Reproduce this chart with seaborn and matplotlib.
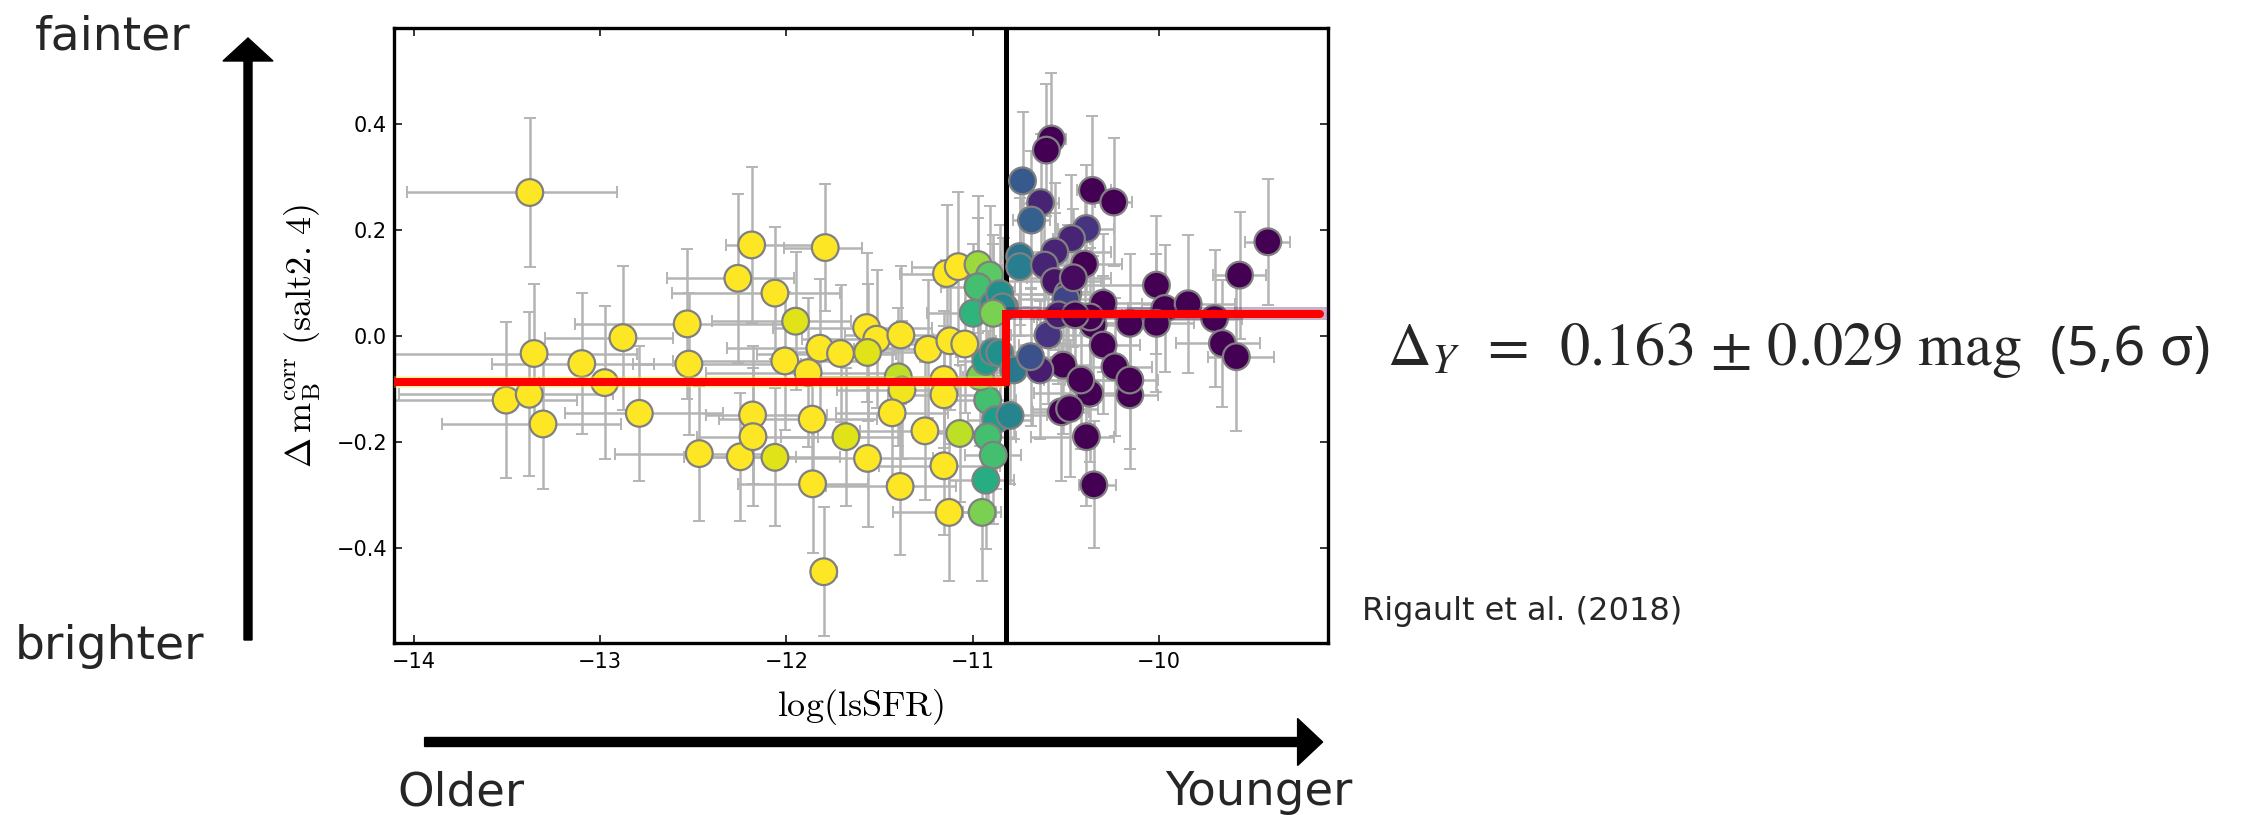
import numpy as np
import pandas as pd
import matplotlib
matplotlib.use("Agg")
import matplotlib.pyplot as plt
from matplotlib.patches import FancyArrow
import seaborn as sns

# ---------------- data ----------------
# log(lsSFR), Delta m_B^corr, P(young), x-error low/high, y-error
lssfr = [
    -13.378, -13.355, -13.505, -13.381, -13.307, -13.099, -12.976, -12.878, -12.790, -12.533,
    -12.524, -12.468, -12.261, -12.187, -12.248, -12.182, -12.180,
    -12.062, -11.792, -11.951, -11.821, -12.009, -11.884, -11.710, -11.570, -11.516, -11.565,
    -11.386, -11.240, -11.141, -11.078, -10.972, -10.910, -10.972, -10.998, -10.890, -10.830,
    -11.123, -11.043, -11.155, -11.155, -11.400, -11.380, -11.433, -11.257, -11.070, -10.920,
    -10.876, -10.920, -10.890, -10.930, -10.950, -11.127, -11.155, -11.390, -11.565, -11.681,
    -11.862, -11.860, -12.062, -11.800, -10.960, -10.930, -10.890, -10.855, -10.840, -10.890,
    -10.855, -10.780, -10.800,
    -10.578, -10.605, -10.733, -10.636, -10.685, -10.358, -10.243, -10.390, -10.470, -10.748,
    -10.748, -10.560, -10.615, -10.400, -10.560, -10.490, -10.300, -10.014, -9.969, -9.844,
    -9.568, -9.416, -9.702, -9.660, -9.585, -10.014, -10.157, -10.354, -10.596, -10.300,
    -10.237, -10.515, -10.640, -10.690, -10.372, -10.157, -10.420, -10.524, -10.480, -10.390,
    -10.350, -10.500, -10.540, -10.157, -10.370, -10.460, -10.450,
]
dmag = [
    0.271, -0.033, -0.121, -0.110, -0.166, -0.052, -0.088, -0.003, -0.146, 0.023,
    -0.053, -0.222, 0.109, 0.172, -0.228, -0.149, -0.190,
    0.081, 0.167, 0.028, -0.023, -0.047, -0.069, -0.033, 0.016, -0.006, -0.031,
    0.002, -0.025, 0.118, 0.131, 0.135, 0.115, 0.093, 0.043, 0.060, 0.055,
    -0.009, -0.015, -0.082, -0.111, -0.077, -0.102, -0.145, -0.179, -0.184, -0.121,
    -0.158, -0.190, -0.225, -0.272, -0.333, -0.333, -0.245, -0.284, -0.231, -0.190,
    -0.157, -0.279, -0.229, -0.445, -0.077, -0.048, -0.030, 0.080, 0.055, 0.043,
    -0.032, -0.064, -0.150,
    0.372, 0.351, 0.293, 0.252, 0.219, 0.275, 0.253, 0.203, 0.184, 0.150,
    0.131, 0.159, 0.134, 0.136, 0.103, 0.080, 0.062, 0.096, 0.052, 0.061,
    0.115, 0.178, 0.033, -0.014, -0.039, 0.024, 0.024, 0.021, 0.002, -0.017,
    -0.058, -0.055, -0.064, -0.039, -0.108, -0.111, -0.083, -0.143, -0.137, -0.190,
    -0.281, 0.070, 0.040, -0.083, 0.036, 0.110, 0.040,
]
p_young = [
    0, 0, 0, 0, 0, 0, 0, 0, 0, 0,
    0, 0, 0, 0, 0, 0, 0,
    0, 0, 0.05, 0, 0, 0, 0, 0, 0, 0.05,
    0, 0, 0, 0, 0.15, 0.25, 0.30, 0.35, 0.50, 0.55,
    0, 0, 0, 0, 0.10, 0.02, 0, 0, 0.10, 0.30,
    0.45, 0.30, 0.30, 0.38, 0.20, 0, 0, 0, 0, 0.05,
    0, 0, 0.05, 0, 0.20, 0.45, 0.50, 0.50, 0.55, 0.20,
    0.50, 0.60, 0.55,
    1.0, 1.0, 0.72, 0.90, 0.70, 1.0, 1.0, 0.85, 0.90, 0.62,
    0.58, 0.90, 0.90, 1.0, 0.95, 0.95, 1.0, 1.0, 1.0, 1.0,
    1.0, 1.0, 1.0, 1.0, 1.0, 1.0, 1.0, 1.0, 0.85, 1.0,
    1.0, 1.0, 0.92, 0.75, 1.0, 1.0, 1.0, 1.0, 1.0, 1.0,
    1.0, 0.80, 0.92, 1.0, 1.0, 0.97, 1.0,
]
xerr_lo = [
    0.66, 0.75, 0.65, 0.70, 0.54, 0.48, 0.35, 0.42, 0.40, 0.60,
    0.30, 0.45, 0.38, 0.14, 0.30, 0.25, 0.30,
    0.55, 0.22, 0.45, 0.50, 0.60, 0.55, 0.45, 0.50, 0.40, 0.45,
    0.30, 0.40, 0.25, 0.25, 0.20, 0.20, 0.20, 0.25, 0.15, 0.12,
    0.35, 0.30, 0.40, 0.30, 0.45, 0.35, 0.30, 0.35, 0.25, 0.20,
    0.15, 0.20, 0.15, 0.20, 0.10, 0.30, 0.35, 0.40, 0.45, 0.35,
    0.50, 0.40, 0.35, 0.07, 0.20, 0.15, 0.20, 0.15, 0.15, 0.15,
    0.15, 0.20, 0.15,
    0.06, 0.06, 0.08, 0.10, 0.10, 0.08, 0.10, 0.15, 0.10, 0.10,
    0.15, 0.20, 0.15, 0.35, 0.30, 0.20, 0.25, 0.50, 0.20, 0.25,
    0.14, 0.12, 0.30, 0.25, 0.15, 0.35, 0.40, 0.30, 0.20, 0.45,
    0.30, 0.25, 0.20, 0.15, 0.30, 0.25, 0.20, 0.15, 0.20, 0.30,
    0.08, 0.25, 0.30, 0.35, 0.30, 0.25, 0.20,
]
xerr_hi = [
    0.47, 0.55, 0.38, 0.45, 0.42, 0.39, 0.45, 0.27, 0.45, 0.55,
    0.60, 0.40, 0.30, 0.35, 0.30, 0.40, 0.35,
    0.35, 0.20, 0.30, 0.40, 0.45, 0.50, 0.30, 0.35, 0.30, 0.35,
    0.35, 0.30, 0.20, 0.20, 0.20, 0.20, 0.20, 0.20, 0.15, 0.15,
    0.25, 0.20, 0.30, 0.30, 0.35, 0.30, 0.30, 0.40, 0.20, 0.15,
    0.20, 0.15, 0.15, 0.15, 0.10, 0.25, 0.30, 0.30, 0.35, 0.30,
    0.35, 0.30, 0.35, 0.07, 0.15, 0.20, 0.20, 0.25, 0.20, 0.15,
    0.20, 0.25, 0.20,
    0.08, 0.06, 0.06, 0.10, 0.10, 0.10, 0.10, 0.15, 0.10, 0.10,
    0.10, 0.30, 0.20, 0.20, 0.25, 0.20, 0.30, 0.03, 0.15, 0.25,
    0.14, 0.12, 0.15, 0.20, 0.20, 0.20, 0.10, 0.25, 0.25, 0.20,
    0.20, 0.15, 0.20, 0.15, 0.20, 0.15, 0.20, 0.15, 0.15, 0.15,
    0.12, 0.20, 0.20, 0.15, 0.15, 0.20, 0.25,
]
yerr = [
    0.141, 0.131, 0.147, 0.155, 0.123, 0.133, 0.145, 0.136, 0.128, 0.141,
    0.134, 0.127, 0.159, 0.147, 0.121, 0.130, 0.130,
    0.124, 0.120, 0.130, 0.130, 0.130, 0.140, 0.130, 0.140, 0.130, 0.130,
    0.130, 0.130, 0.130, 0.140, 0.130, 0.130, 0.130, 0.130, 0.130, 0.130,
    0.130, 0.130, 0.130, 0.130, 0.130, 0.130, 0.130, 0.130, 0.130, 0.130,
    0.130, 0.130, 0.130, 0.130, 0.130, 0.130, 0.130, 0.130, 0.130, 0.130,
    0.130, 0.130, 0.130, 0.122, 0.130, 0.130, 0.130, 0.130, 0.130, 0.130,
    0.130, 0.130, 0.130,
    0.124, 0.125, 0.130, 0.130, 0.130, 0.140, 0.120, 0.120, 0.120, 0.130,
    0.130, 0.130, 0.130, 0.130, 0.130, 0.130, 0.130, 0.130, 0.120, 0.130,
    0.120, 0.119, 0.130, 0.120, 0.140, 0.130, 0.130, 0.130, 0.130, 0.130,
    0.130, 0.130, 0.130, 0.130, 0.130, 0.140, 0.130, 0.130, 0.130, 0.130,
    0.120, 0.130, 0.130, 0.130, 0.130, 0.130, 0.130,
]

split_lssfr = -10.82
step_x = [-14.11, split_lssfr, split_lssfr, -9.135]
step_y = [-0.087, -0.087, 0.0425, 0.0425]
band_half = 0.012

xticks = [-14, -13, -12, -11, -10]
yticks = [-0.4, -0.2, 0.0, 0.2, 0.4]

df = pd.DataFrame({"lssfr": lssfr, "dmag": dmag, "p": p_young})

sns.set_theme(style="ticks")
plt.rcParams["font.family"] = ["DejaVu Sans"]
plt.rcParams["mathtext.fontset"] = "cm"

W, H, DPI = 2243, 815, 100
fig = plt.figure(figsize=(W / DPI, H / DPI), dpi=DPI, facecolor="white")
ax = fig.add_axes([394 / W, 1 - 642.7 / H, 934 / W, 614.4 / H])
ax.set_facecolor("white")

# error bars
ax.errorbar(df["lssfr"], df["dmag"], xerr=[xerr_lo, xerr_hi], yerr=yerr,
            fmt="none", ecolor="#b4b4b4", elinewidth=1.8, capsize=4.5,
            capthick=1.4, zorder=1)

# split line
ax.axvline(split_lssfr, color="black", lw=3.6, zorder=2)

# points
sns.scatterplot(data=df, x="lssfr", y="dmag", hue="p", palette="viridis_r",
                hue_norm=(0, 1), s=370, edgecolor="#808080", linewidth=1.6,
                legend=False, zorder=3, ax=ax)

# bands + step
ax.fill_between([step_x[0], split_lssfr], step_y[0] - band_half, step_y[0] + band_half,
                color="#fde725", alpha=0.35, lw=0, zorder=4)
ax.fill_between([split_lssfr, -9.09], step_y[-1] - band_half, step_y[-1] + band_half,
                color="#440154", alpha=0.3, lw=0, zorder=4)
ax.plot(step_x, step_y, color="#ff0000", lw=5.8, zorder=5, solid_joinstyle="miter")

ax.set_xlim(-14.107, -9.093)
ax.set_ylim(-0.579, 0.581)
ax.set_xticks(xticks)
ax.set_yticks(yticks)
ax.tick_params(direction="in", top=True, right=True, length=6, width=1.1,
               color="black", labelsize=15, labelcolor="black")
ax.tick_params(axis="x", pad=7)
ax.tick_params(axis="y", pad=5)
for s in ax.spines.values():
    s.set_visible(True)
    s.set_color("black")
    s.set_linewidth(2.4)

ax.set_xlabel(r"$\log(\mathrm{lsSFR})$", fontsize=26, color="black")
ax.xaxis.set_label_coords(0.5, (642.7 - 707) / 614.4)
ax.xaxis.label.set_va("center")
ax.set_ylabel(r"$\Delta\,\mathrm{m_B^{corr}}\ \mathrm{(salt2.\,4)}$", fontsize=26, color="black")
ax.yaxis.set_label_coords((303 - 394) / 934, 0.5)
ax.yaxis.label.set_va("center")

# ---------------- annotations ----------------
fig.text(35 / W, 1 - 49.5 / H, "fainter", fontsize=34, family="DejaVu Sans", va="baseline")
fig.text(15 / W, 1 - 659 / H, "brighter", fontsize=34, family="DejaVu Sans", va="baseline")
fig.text(397 / W, 1 - 805 / H, "Older", fontsize=33.5, family="DejaVu Sans", va="baseline")
fig.text(1352 / W, 1 - 805 / H, "Younger", fontsize=33.5, family="DejaVu Sans",
         va="baseline", ha="right")
fig.text(1362 / W, 1 - 620 / H, "Rigault et al. (2018)", fontsize=23,
         family="DejaVu Sans", va="baseline")
fig.text(1387 / W, 1 - 365 / H, r"$\Delta_Y$  =  0.163 ± 0.029 mag",
         fontsize=43.5, family="STIXGeneral", math_fontfamily="stix", va="baseline")
fig.text(2050 / W, 1 - 365 / H, "(5,6 σ)", fontsize=40, family="Noto Sans",
         va="baseline")

tr = fig.dpi_scale_trans
fig.add_artist(FancyArrow(2.48, (H - 640) / DPI, 0, (640 - 38) / DPI, width=0.08,
                          head_width=0.50, head_length=0.23, length_includes_head=True,
                          color="black", transform=tr))
fig.add_artist(FancyArrow(424.6 / DPI, (H - 742) / DPI, (1322.6 - 424.6) / DPI, 0,
                          width=0.09, head_width=0.47, head_length=0.25,
                          length_includes_head=True, color="black", transform=tr))

fig.savefig("out.png", dpi=DPI, facecolor="white")
